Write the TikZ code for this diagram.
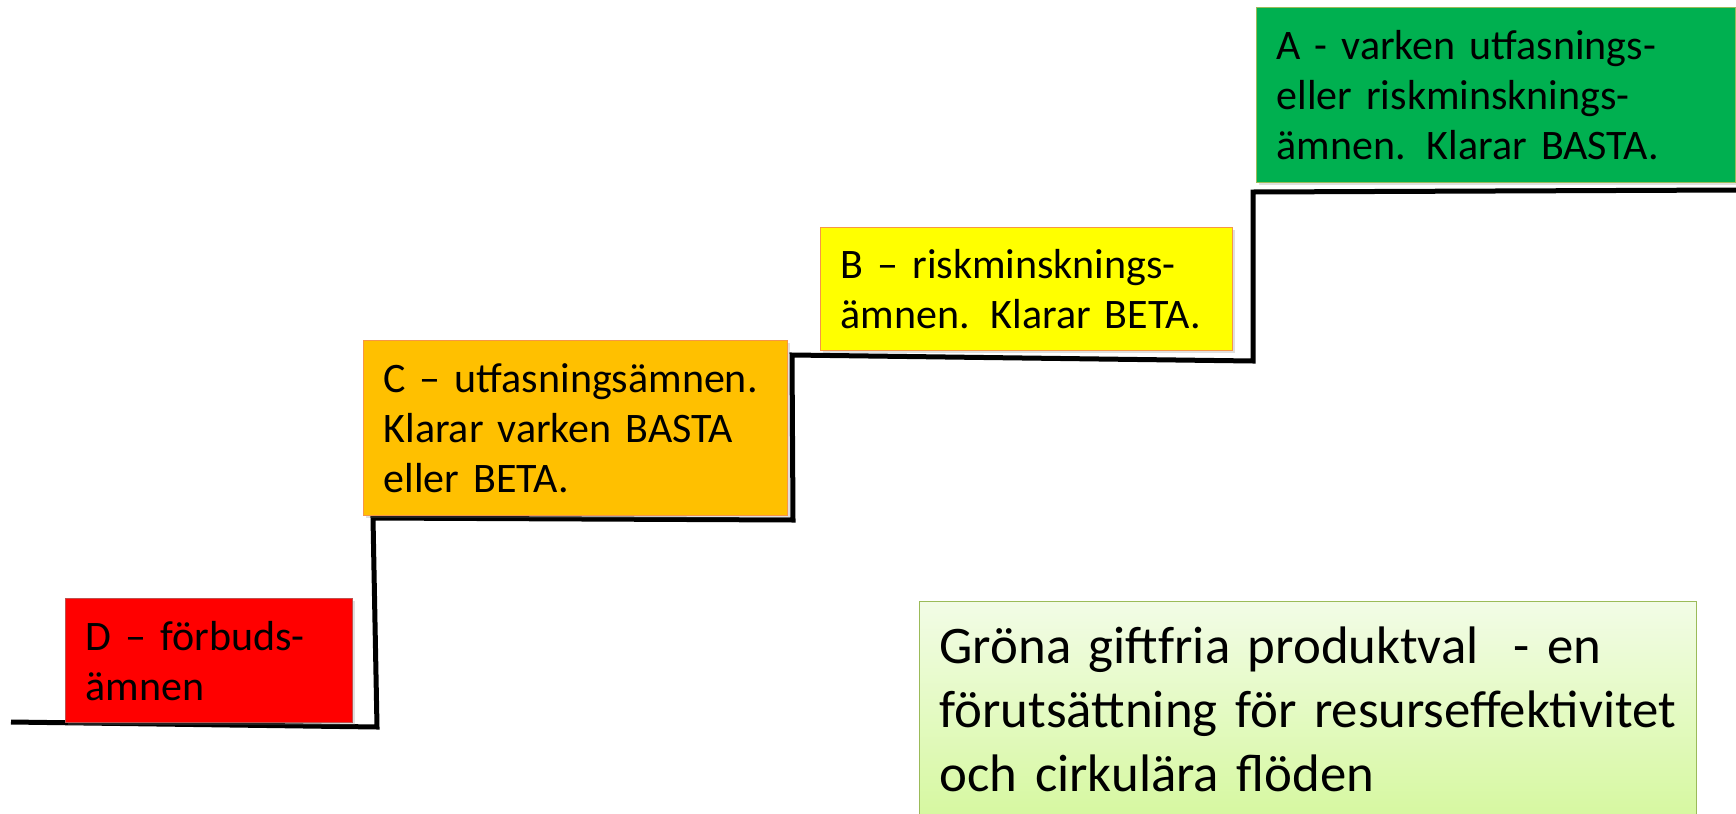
\documentclass[tikz,border=0pt]{standalone}
\usepackage{fontspec}
\setmainfont{Carlito}
\usepackage{tikz}
\usetikzlibrary{positioning}
\usetikzlibrary{shadows}

\definecolor{redD}{RGB}{255,0,0}
\definecolor{orangeC}{RGB}{255,192,0}
\definecolor{yellowB}{RGB}{255,255,0}
\definecolor{greenA}{RGB}{0,176,80}
\definecolor{redline}{RGB}{192,80,77}
\definecolor{orangeline}{RGB}{247,150,70}
\definecolor{greenline}{RGB}{155,187,89}
\definecolor{lighttop}{RGB}{242,252,230}
\definecolor{lightbot}{RGB}{214,248,160}

\newcommand\levelfont{\fontsize{21}{25}\selectfont\spaceskip=4.2pt\relax}
\newcommand\messagefont{\fontsize{26.4}{32}\selectfont\spaceskip=5.3pt\relax}

\begin{document}
\begin{tikzpicture}[x=0.5pt,y=-0.5pt,
        level/.style={draw=#1, line width=0.6pt, anchor=north west, inner xsep=10pt, inner ysep=0pt,
            align=left, font=\levelfont,
            drop shadow={shadow xshift=1.2pt,shadow yshift=-1.2pt,opacity=.25}},
        stairs/.style={line width=2.5pt, line join=miter}]
        \useasboundingbox (0,0) rectangle (1736,814);
        % the staircase
        \draw[stairs] (11,722) -- (377,727) -- (373,518) -- (793,520) -- (792,355)
            -- (1253,361) -- (1253,192) -- (1736,190);
        % the four levels
        \node[level=redline, fill=redD, text width=123.5pt, minimum height=62pt] (levelD) at (65,598)
            {D -- förbuds-\\ämnen};
        \node[level=orangeline, fill=orangeC, text width=192pt, minimum height=87.5pt] (levelC) at (363,340)
            {C -- utfasningsämnen.\\Klarar varken BASTA\\eller BETA.};
        \node[level=orangeline, fill=yellowB, text width=186pt, minimum height=61.5pt] (levelB) at (820,227)
            {B -- riskminsknings-\\ämnen. Klarar BETA.};
        \node[level=greenline, fill=greenA, text width=219.5pt, minimum height=87.5pt] (levelA) at (1256,7)
            {A - varken utfasnings-\\eller riskminsknings-\\ämnen. Klarar BASTA.};
        % the message
        \node[draw=greenline, line width=0.6pt, top color=lighttop, bottom color=lightbot, anchor=north west,
            inner xsep=10pt, inner ysep=0pt, align=left, text width=368.5pt, minimum height=108pt,
            font=\messagefont] (message) at (919,601)
            {Gröna giftfria produktval\ \ - en\\förutsättning för resurseffektivitet\\och cirkulära flöden};
\end{tikzpicture}
\end{document}
